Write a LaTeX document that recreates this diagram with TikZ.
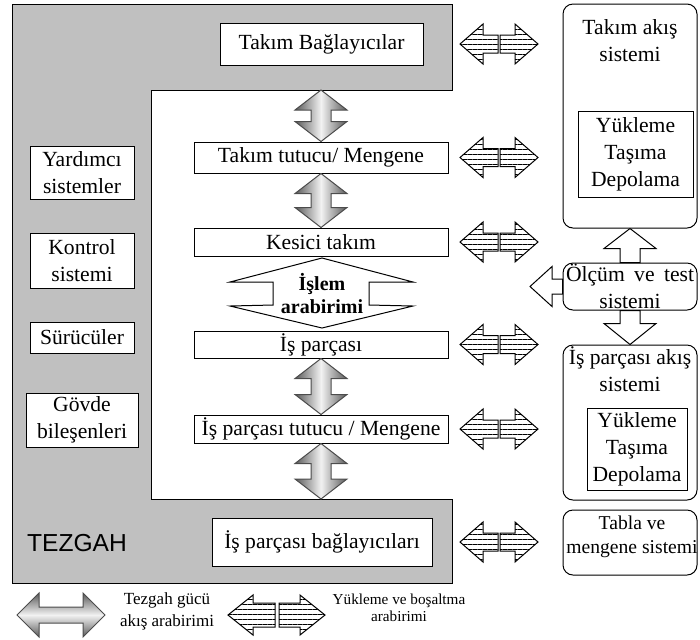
\documentclass[tikz,border=0pt]{standalone}
\usepackage{fontspec}
\setmainfont{Liberation Serif}
\newfontfamily\tezgahfont{Liberation Sans}
\usetikzlibrary{calc,positioning,patterns.meta}
\definecolor{tezgahgray}{HTML}{C0C0C0}

\begin{document}
\begin{tikzpicture}[
    x=0.5pt, y=-0.5pt, line width=0.5pt,
    box/.style={rectangle, draw, fill=white, inner sep=0pt, align=center,
        font=\fontsize{10.8}{13.5}\selectfont},
    sysbox/.style={box, rounded corners=5pt},
    title/.style={inner sep=0pt, align=center, font=\fontsize{10.8}{13.5}\selectfont},
    boxsize/.style 2 args={minimum width=#1*0.5pt, minimum height=#2*0.5pt},
    % block arrows: head length, half head width, half shaft width
    dflow/.style n args={3}{to path={
        -- ($(\tikztostart)!#1!(\tikztotarget)!#2!90:(\tikztotarget)$)
        -- ($(\tikztostart)!#1!(\tikztotarget)!#3!90:(\tikztotarget)$)
        -- ($(\tikztotarget)!#1!(\tikztostart)!#3!-90:(\tikztostart)$)
        -- ($(\tikztotarget)!#1!(\tikztostart)!#2!-90:(\tikztostart)$)
        -- (\tikztotarget)
        -- ($(\tikztotarget)!#1!(\tikztostart)!#2!90:(\tikztostart)$)
        -- ($(\tikztotarget)!#1!(\tikztostart)!#3!90:(\tikztostart)$)
        -- ($(\tikztostart)!#1!(\tikztotarget)!#3!-90:(\tikztotarget)$)
        -- ($(\tikztostart)!#1!(\tikztotarget)!#2!-90:(\tikztotarget)$)
        -- cycle}},
    sflow/.style n args={3}{to path={
        ($(\tikztostart)!#3!90:(\tikztotarget)$)
        -- ($(\tikztotarget)!#1!(\tikztostart)!#3!-90:(\tikztostart)$)
        -- ($(\tikztotarget)!#1!(\tikztostart)!#2!-90:(\tikztostart)$)
        -- (\tikztotarget)
        -- ($(\tikztotarget)!#1!(\tikztostart)!#2!90:(\tikztostart)$)
        -- ($(\tikztotarget)!#1!(\tikztostart)!#3!90:(\tikztostart)$)
        -- ($(\tikztostart)!#3!-90:(\tikztotarget)$)
        -- cycle}},
    gflow/.style={draw=black!70, left color=black!65, right color=black!65,
        middle color=black!5, dflow={10pt}{13pt}{5pt}},
    gpower/.style={draw=black!70, top color=black!65, bottom color=black!65,
        middle color=black!5, dflow={11pt}{11pt}{4pt}},
    stripe/.style={draw, pattern={Lines[angle=0, distance=2.5pt, line width=0.4pt]}},
    oflow/.style={draw, fill=white}
]
    \useasboundingbox (0,0) rectangle (700,639);

    % machine tool (grey C shape)
    \draw[fill=tezgahgray] (12,4) -- (452,4) -- (452,90) -- (151,90) -- (151,499)
        -- (452,499) -- (452,583) -- (12,583) -- cycle;
    \coordinate (wtop) at (321,90);
    \coordinate (wbot) at (321,499);
    \node[font=\tezgahfont\fontsize{12.3}{14}\selectfont, inner sep=0pt] (tezlbl) at (77,543) {TEZGAH};

    \node[box, boxsize={203}{42}] (tbag) at (321.5,44) {Takım Bağlayıcılar};
    \node[box, boxsize={254}{31}] (ttut) at (321,157.5) {Takım tutucu/ Mengene};
    \node[box, boxsize={254}{28}] (kesici) at (321,242) {Kesici takım};
    \node[box, boxsize={254}{27}] (ispar) at (321,344.5) {İş parçası};
    \node[box, boxsize={254}{28}] (istut) at (321,429) {İş parçası tutucu / Mengene};
    \node[box, boxsize={220}{48}] (isbag) at (322,542) {İş parçası bağlayıcıları};

    \node[box, boxsize={104}{53}] (yard) at (82,172.5) {Yardımcı\\sistemler};
    \node[box, boxsize={104}{55}] (kontrol) at (82,260.5) {Kontrol\\sistemi};
    \node[box, boxsize={104}{31}] (surucu) at (82,337.5) {Sürücüler};
    \node[box, boxsize={112}{54}] (govde) at (82,420) {Gövde\\bileşenleri};

    % process interface
    \draw[fill=white] (322,258) -- (413,282) -- (369,282) -- (369,305) -- (413,306)
        -- (322,328) -- (230,306) -- (273,305) -- (273,282) -- (230,282) -- cycle;
    \node[font=\bfseries\fontsize{10}{11.5}\selectfont, align=center, inner sep=0pt] (islem) at (322,294) {İşlem\\arabirimi};

    \path[gflow] (wtop) to (ttut.north);
    \path[gflow] (ttut.south) to (kesici.north);
    \path[gflow] (ispar.south) to (istut.north);
    \path[gflow] (istut.south) to (wbot);

    % right column
    \node[sysbox, boxsize={134}{224}] (takis) at (630,116) {};
    \node[title, below=8pt of takis.north] (takisl) {Takım akış\\sistemi};
    \node[box, boxsize={115}{86}] (takyuk) at (635.5,154) {Yükleme\\Taşıma\\Depolama};
    \node[sysbox, boxsize={134}{47}] (olcum) at (630,286.5) {\makebox[64pt][s]{Ölçüm ve test}\\sistemi};
    \node[sysbox, boxsize={134}{155}] (ispak) at (630,422.5) {};
    \node[title, below=1pt of ispak.north] (ispakl) {İş parçası akış\\sistemi};
    \node[box, boxsize={100}{82}] (isyuk) at (637,449) {Yükleme\\Taşıma\\Depolama};
    \node[sysbox, boxsize={134}{65}] (tabla) at (630,542.5) {};
    \node[title, font=\fontsize{9.8}{12}\selectfont, below=3pt of tabla.north, xshift=1pt] (tablal) {Tabla ve\\mengene sistemi};

    \coordinate (olcout) at (530,286.5);
    \path[oflow] (olcum.north) to[sflow={10pt}{13pt}{5pt}] (takis.south);
    \path[oflow] (olcum.south) to[sflow={10.5pt}{13pt}{5pt}] (ispak.north);
    \path[oflow] (olcum.west) to[sflow={11pt}{10pt}{3.75pt}] (olcout);

    % loading / unloading interfaces
    \coordinate (ifc) at (499,0);
    \foreach \b in {tbag,ttut,kesici,ispar,istut,isbag}{
        \coordinate (m) at (\b -| ifc);
        \path[stripe] ($(m)+(-1,0)$) to[sflow={11.5pt}{10pt}{4.5pt}] ($(m)+(-39,0)$);
        \path[stripe] ($(m)+(1,0)$) to[sflow={11.5pt}{10pt}{4.5pt}] ($(m)+(39,0)$);
    }

    % legend
    \coordinate (pl) at (17,615);
    \coordinate (pr) at (105,615);
    \path[gpower] (pl) to (pr);
    \node[font=\fontsize{8.5}{11}\selectfont, align=center, inner sep=0pt] (powlbl) at (167,611) {Tezgah gücü\\akış arabirimi};
    \coordinate (ll) at (228,615);
    \coordinate (lm) at (277,615);
    \coordinate (lr) at (325,615);
    \path[stripe] ($(lm)+(-2,0)$) to[sflow={12.5pt}{10pt}{6pt}] (ll);
    \path[stripe] ($(lm)+(2,0)$) to[sflow={12.5pt}{10pt}{6pt}] (lr);
    \node[font=\fontsize{7.6}{8.5}\selectfont, align=center, inner sep=0pt] (loadlbl) at (399,608) {Yükleme ve boşaltma\\arabirimi};
\end{tikzpicture}
\end{document}
